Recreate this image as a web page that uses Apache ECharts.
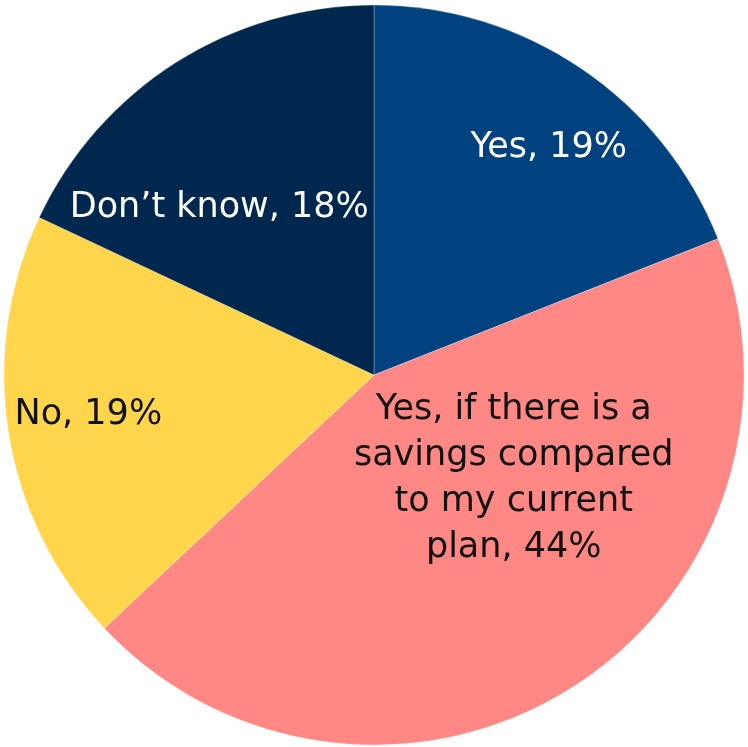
<!DOCTYPE html>
<html>
<head>
<meta charset="utf-8">
<script src="https://cdn.jsdelivr.net/npm/echarts@6/dist/echarts.min.js"></script>
<style>
  html, body { margin: 0; padding: 0; background: #ffffff; }
  #chart { width: 748px; height: 747px; }
</style>
</head>
<body>
<div id="chart"></div>
<script>
// Survey answers and their shares (percent)
const categories = [
  'Yes',
  'Yes, if there is a\nsavings compared\nto my current\nplan',
  'No',
  'Don\u2019t know'
];
const values = [19, 44, 19, 18];
const sliceColors = ['#00417F', '#FF8784', '#FFD54B', '#00284F'];
const labelColors = ['#ffffff', '#111111', '#111111', '#ffffff'];
const labelOffsets = [[69, -72], [39, -55], [-100, 10], [-54, -8]];

const chart = echarts.init(document.getElementById('chart'));

const data = categories.map((name, i) => ({
  name: name,
  value: values[i],
  itemStyle: { color: sliceColors[i] },
  label: { color: labelColors[i], offset: labelOffsets[i] }
}));

chart.setOption({
  animation: false,
  series: [{
    type: 'pie',
    center: [374, 375],
    radius: [0, 370],
    startAngle: 90,
    clockwise: true,
    itemStyle: { borderColor: 'rgba(255,255,255,0.5)', borderWidth: 0.6 },
    label: {
      show: true,
      position: 'inside',
      fontFamily: 'DejaVu Sans',
      fontSize: 35,
      lineHeight: 46,
      align: 'center',
      formatter: p => p.name + ', ' + p.value + '%'
    },
    labelLine: { show: false },
    emphasis: { disabled: true },
    data: data
  }]
});
</script>
</body>
</html>
